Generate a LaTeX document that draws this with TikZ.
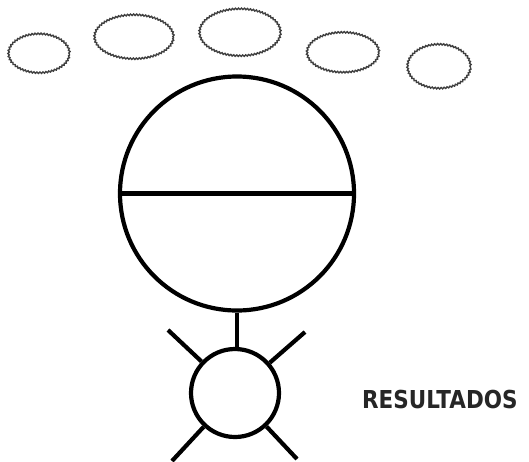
\documentclass[tikz,border=0pt]{standalone}
\usepackage{fontspec}
\setmainfont{Liberation Sans}
\newfontfamily\lblfont{DejaVu Sans}
\usetikzlibrary{shapes.geometric,decorations.pathmorphing}
\tikzset{
  cloud/.style={ellipse, draw=black!75, line width=1.4pt, inner sep=0pt,
    decorate, decoration={snake, amplitude=0.7pt, segment length=3pt}},
  stroke/.style={line width=4.2pt},
  ring/.style={circle, draw, line width=4.2pt, inner sep=0pt},
}
\begin{document}
\begin{tikzpicture}[x=1pt,y=-1pt]
\useasboundingbox (0,0) rectangle (529,461);
\fill[white] (0,0) rectangle (529,461);
% clouds
\node[cloud, minimum width=61pt, minimum height=39pt] (c1) at (39,54) {};
\node[cloud, minimum width=79pt, minimum height=44pt] (c2) at (134,37.5) {};
\node[cloud, minimum width=81pt, minimum height=47pt] (c3) at (240,33) {};
\node[cloud, minimum width=72pt, minimum height=40pt] (c4) at (343,53) {};
\node[cloud, minimum width=63pt, minimum height=44pt] (c5) at (439,67) {};
% big circle
\node[ring, minimum size=234pt] (big) at (237,193.5) {};
\draw[stroke] (big.west) -- (big.east);
% small circle
\node[ring, minimum size=88pt] (small) at (235,393) {};
\draw[stroke] (big.south) -- (big.south |- small.north);
% legs
\coordinate (ul) at (168,330);
\coordinate (ur) at (305,332);
\coordinate (ll) at (172,461);
\coordinate (lr) at (297,459);
\draw[stroke] (ul) -- (small);
\draw[stroke] (ur) -- (small);
\draw[stroke] (ll) -- (small);
\draw[stroke] (lr) -- (small);
% label
\node[anchor=base west, inner sep=0pt, xscale=0.87, text=black!85] (res) at (362,408)
  {\lblfont\fontsize{24.7}{24.7}\selectfont\bfseries RESULTADOS};
\end{tikzpicture}
\end{document}
